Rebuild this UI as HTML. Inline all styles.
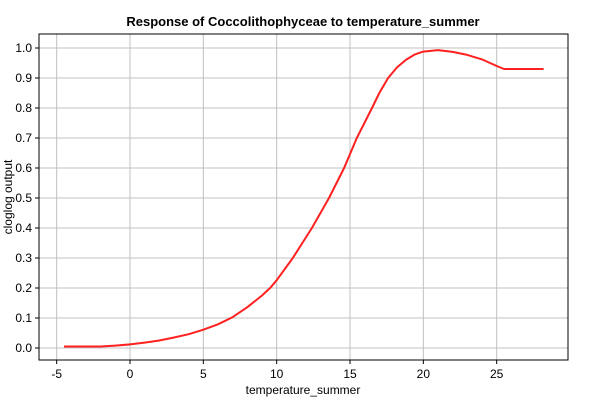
<!DOCTYPE html>
<html><head><meta charset="utf-8"><style>
body{margin:0;background:#fff;}
svg text{font-family:"Liberation Sans",sans-serif;}
</style></head><body>
<svg id="chart" width="600" height="400">
<text x="303" y="26" text-anchor="middle" font-size="13" font-weight="bold">Response of Coccolithophyceae to temperature_summer</text>
<g id="grid"></g>
<g id="axes"></g>
<text x="303" y="394" text-anchor="middle" font-size="12">temperature_summer</text>
<text transform="translate(12,197) rotate(-90)" text-anchor="middle" font-size="12">cloglog output</text>
<path id="line" fill="none" stroke="#ff2020" stroke-width="2" stroke-linejoin="round"></path>
</svg>
<script>
const xVals=[-4.5,-2,-1,0,1,2,3,4,5,6,7,8,9,9.55,10,11.1,12.4,13.57,14.6,15.46,16.5,17,17.6,18.2,18.8,19.4,20,21,22,23,24,25,25.5,28.2];
const yVals=[0.005,0.005,0.008,0.012,0.018,0.025,0.035,0.046,0.061,0.079,0.103,0.136,0.175,0.2,0.226,0.3,0.4,0.5,0.6,0.7,0.8,0.85,0.9,0.935,0.96,0.978,0.988,0.993,0.987,0.977,0.962,0.94,0.93,0.93];
const xTicks=[-5,0,5,10,15,20,25];
const yTicks=[0,0.1,0.2,0.3,0.4,0.5,0.6,0.7,0.8,0.9,1.0];
const L=39,R=568,T=34,B=360;
const sx=v=>130+v*14.667;
const sy=v=>348-v*300;
const ns="http://www.w3.org/2000/svg";
const grid=document.getElementById('grid'),axes=document.getElementById('axes');
function mk(tag,attrs,parent){const e=document.createElementNS(ns,tag);for(const k in attrs)e.setAttribute(k,attrs[k]);parent.appendChild(e);return e;}
xTicks.forEach(t=>{
 const g=mk('line',{x1:sx(t),x2:sx(t),y1:T,y2:B,stroke:'#c0c0c0'},grid);
 
 
 mk('line',{x1:sx(t),x2:sx(t),y1:B,y2:B+4,stroke:'#000'},axes);
 const tx=mk('text',{x:sx(t),y:B+18,'text-anchor':'middle','font-size':'12'},axes);
 tx.textContent=t;
 
 
});
yTicks.forEach(t=>{
 const g=mk('line',{x1:L,x2:R,y1:sy(t),y2:sy(t),stroke:'#c0c0c0'},grid);
 
 
 mk('line',{x1:L-4,x2:L,y1:sy(t),y2:sy(t),stroke:'#000'},axes);
 const tx=mk('text',{x:L-7,y:sy(t)+4,'text-anchor':'end','font-size':'12'},axes);
 tx.textContent=t.toFixed(1);
 
 
});
const fr=mk('rect',{x:L,y:T,width:R-L,height:B-T,fill:'none',stroke:'#000'},axes);


document.getElementById('line').setAttribute('d',xVals.map((x,i)=>(i?'L':'M')+sx(x).toFixed(1)+','+sy(yVals[i]).toFixed(1)).join(''));
</script>
</body></html>
